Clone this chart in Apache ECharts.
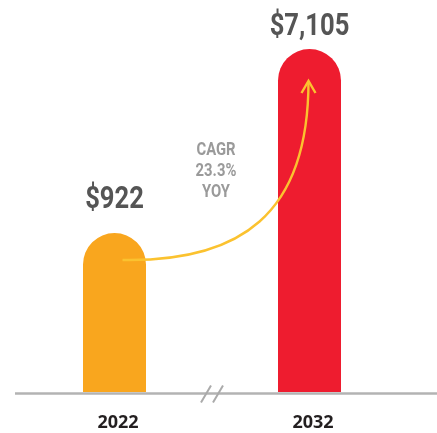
<!DOCTYPE html>
<html>
<head>
<meta charset="utf-8">
<script src="https://cdn.jsdelivr.net/npm/echarts@6/dist/echarts.min.js"></script>
<style>html,body{margin:0;padding:0;background:#fff;}#c{width:437px;height:433px;}</style>
</head>
<body>
<div id="c"></div>
<script>
const categories = ['2022', '2032'];
const marketValues = [922, 7105];
const barColors = ['#F9A61E', '#EE1C2F'];
const labelOffsets = [33.5, 22];
const cagrLines = ['CAGR', '23.3%', 'YOY'];

const condensed = 'Roboto, "Liberation Sans", sans-serif';

const chart = echarts.init(document.getElementById('c'), null, {renderer: 'canvas'});

chart.setOption({
  animation: false,
  backgroundColor: '#ffffff',
  grid: {left: 17, right: 30, top: 49, bottom: 41, containLabel: false},
  xAxis: {
    type: 'category',
    data: categories,
    axisLine: {show: false},
    axisTick: {show: false},
    axisLabel: {
      margin: 22,
      color: '#231f20',
      fontFamily: '"Open Sans", sans-serif',
      fontWeight: 'bold',
      fontSize: 18,
      padding: [0, 0, 0, 7]
    }
  },
  yAxis: {
    type: 'value',
    min: 0,
    max: 7105,
    show: false,
    splitLine: {show: false},
    breaks: [{start: 1000, end: 6116, gap: 0}],
    breakArea: {show: false}
  },
  series: [{
    type: 'bar',
    barWidth: 63,
    data: marketValues.map((v, i) => ({
      value: v,
      itemStyle: {color: barColors[i], borderRadius: [31.5, 31.5, 0, 0]}
    })),
    label: {show: false}
  }]
});

function drawDecor() {
  const base = chart.convertToPixel({yAxisIndex: 0}, 0);
  const cx = categories.map(c => chart.convertToPixel({xAxisIndex: 0}, c));
  const tops = marketValues.map(v => chart.convertToPixel({yAxisIndex: 0}, v));
  const c0 = cx[0], c1 = cx[1];
  const mid = (c0 + c1) / 2;
  const lineY = base + 1.5;
  const p0 = [c0 + 8, tops[0] + 27];
  const p3 = [c1 - 1, tops[1] + 32];
  const arrowColor = '#FBC22F';
  const valueLabels = marketValues.map((v, i) => ({
    type: 'text', z: 10, x: cx[i], y: tops[i] - labelOffsets[i], scaleX: 0.8,
    style: {text: '$' + v.toLocaleString('en-US'), fill: '#555555', font: 'bold 32px ' + condensed,
      align: 'center', verticalAlign: 'middle'}
  }));
  chart.setOption({
    graphic: [
      {type: 'line', z: 0, shape: {x1: 15, y1: lineY, x2: 437, y2: lineY}, style: {stroke: '#b3b3b3', lineWidth: 2.6}},
      {type: 'line', z: 5, shape: {x1: mid - 11, y1: lineY + 9, x2: mid - 1, y2: lineY - 8}, style: {stroke: '#aaaaaa', lineWidth: 2}},
      {type: 'line', z: 5, shape: {x1: mid + 1, y1: lineY + 9, x2: mid + 11, y2: lineY - 8}, style: {stroke: '#aaaaaa', lineWidth: 2}},
      {type: 'bezierCurve', z: 10, shape: {x1: p0[0], y1: p0[1], cpx1: 240, cpy1: p0[1] + 2, cpx2: p3[0], cpy2: 215, x2: p3[0], y2: p3[1]},
        style: {stroke: arrowColor, lineWidth: 2.4, fill: null}},
      {type: 'polyline', z: 10, shape: {points: [[p3[0] - 7, p3[1] + 12], [p3[0], p3[1]], [p3[0] + 7, p3[1] + 12]]},
        style: {stroke: arrowColor, lineWidth: 2.4, fill: null}},
      {type: 'text', z: 10, x: mid + 4, y: 171, scaleX: 0.78,
        style: {text: cagrLines.join('\n'), fill: '#9a9a9a', font: 'bold 19px ' + condensed, lineHeight: 21, align: 'center', verticalAlign: 'middle'}}
    ].concat(valueLabels)
  });
}
drawDecor();
</script>
</body>
</html>
